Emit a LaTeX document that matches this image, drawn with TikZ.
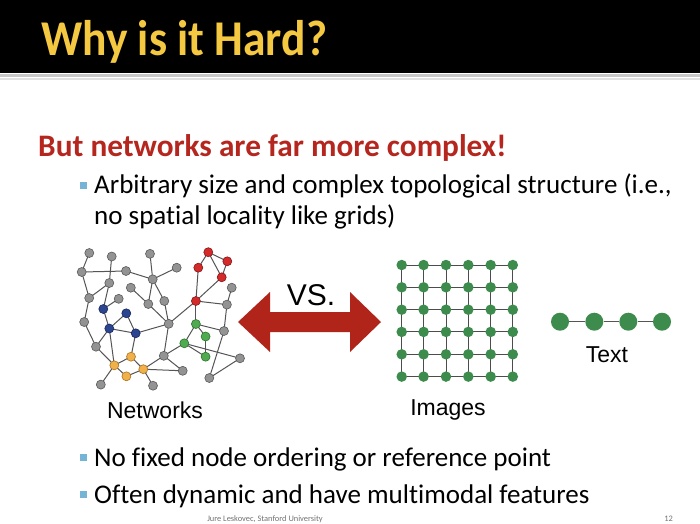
\documentclass[tikz,border=0pt]{standalone}
\usepackage{fontspec}
\setmainfont{Carlito}[Ligatures=NoCommon]
\newfontfamily\helv{Liberation Sans}
\definecolor{titleyellow}{HTML}{F5C842}
\definecolor{headred}{HTML}{B5261E}
\definecolor{bulletblue}{HTML}{76B4D6}
\definecolor{arrowred}{HTML}{B0241A}
\definecolor{edgegray}{HTML}{555555}
\definecolor{imggreen}{HTML}{3D8C4D}
\pgfdeclarelayer{back}
\pgfdeclarelayer{bg}
\pgfsetlayers{back,bg,main}
\begin{document}
\begin{tikzpicture}[x=1pt,y=-1pt,
  nd/.style={circle,inner sep=0pt,minimum size=9pt,line width=0.6pt},
  gn/.style={nd,fill=gray!85!white,draw=black!65},
  rn/.style={nd,fill={rgb,255:red,212;green,42;blue,42},draw={rgb,255:red,130;green,25;blue,25}},
  bn/.style={nd,fill={rgb,255:red,43;green,69;blue,144},draw={rgb,255:red,25;green,40;blue,90}},
  grn/.style={nd,fill={rgb,255:red,80;green,170;blue,80},draw={rgb,255:red,45;green,115;blue,45}},
  on/.style={nd,fill={rgb,255:red,240;green,176;blue,74},draw={rgb,255:red,170;green,115;blue,35}},
  ed/.style={draw=edgegray,line width=1pt},
  gridedge/.style={draw=black!70,line width=1pt},
  imnode/.style={circle,inner sep=0pt,minimum size=10.5pt,fill=imggreen},
  txnode/.style={circle,inner sep=0pt,minimum size=18pt,fill=imggreen},
  bul/.style={rectangle,inner sep=0pt,minimum size=7pt,fill=bulletblue},
  body/.style={anchor=base west,inner sep=0pt,font=\fontsize{27}{30}\selectfont},
  lab/.style={inner sep=0pt,font=\helv\fontsize{23}{26}\selectfont},
  foottext/.style={anchor=base,inner sep=0pt,text=black!55,font=\fontsize{8.4}{9}\selectfont}
]
\useasboundingbox (0,0) rectangle (700,523);
\begin{pgfonlayer}{back}
\fill[white] (0,0) rectangle (700,523);
% title bar
\fill[black] (0,0) rectangle (700,73);
\fill[black!22] (0,74) rectangle (700,77);
\fill[black!12] (0,78) rectangle (700,79.5);
\end{pgfonlayer}
\node[anchor=base west,inner sep=0pt,text=titleyellow,font=\bfseries\fontsize{45.5}{48}\selectfont] (title) at (41,55) {\scalebox{1}[1.1]{Why is it Hard?}};
% heading
\node[anchor=base west,inner sep=0pt,text=headred,font=\bfseries\fontsize{31.3}{34}\selectfont] (head) at (38,156) {But networks are far more complex!};
% bullets
\node[bul] (bu1) at (83.5,185.5) {};
\node[body] (t1a) at (94,193) {Arbitrary size and complex topological structure (i.e.,};
\node[body] (t1b) at (94,224) {no spatial locality like grids)};
\node[bul] (bu2) at (83.5,457.5) {};
\node[body] (t2) at (94,466) {No fixed node ordering or reference point};
\node[bul] (bu3) at (83.5,494) {};
\node[body] (t3) at (94,503) {Often dynamic and have multimodal features};
% footer
\node[foottext] (foot) at (265,521) {Jure Leskovec, Stanford University};
\node[foottext] (pg) at (668.5,521) {12};

% network nodes
\node[gn] (n1) at (89.3,253) {};
\node[gn] (n2) at (111.7,256.5) {};
\node[gn] (n3) at (150,253.8) {};
\node[gn] (n4) at (81.7,272) {};
\node[gn] (n5) at (126,271) {};
\node[gn] (n6) at (176.7,267.7) {};
\node[gn] (n7) at (109.3,283) {};
\node[gn] (n8) at (152.7,279.3) {};
\node[gn] (n9) at (130.8,287.7) {};
\node[gn] (n10) at (89.2,298) {};
\node[gn] (n11) at (118.7,298.8) {};
\node[gn] (n12) at (148.3,304) {};
\node[gn] (n13) at (164.3,301) {};
\node[gn] (n14) at (231.7,287.7) {};
\node[gn] (n15) at (226.9,304.6) {};
\node[gn] (n16) at (84.2,322) {};
\node[gn] (n17) at (168.7,323.8) {};
\node[gn] (n18) at (224,331) {};
\node[gn] (n19) at (96,346.7) {};
\node[gn] (n20) at (163.8,355.8) {};
\node[gn] (n21) at (240,358.3) {};
\node[gn] (n22) at (182.7,370.8) {};
\node[gn] (n23) at (209.3,378) {};
\node[gn] (n24) at (100.8,384.6) {};
\node[gn] (n25) at (153,385.7) {};
\node[rn] (r1) at (208.3,252.2) {};
\node[rn] (r2) at (227.3,261.3) {};
\node[rn] (r3) at (198.3,267.7) {};
\node[rn] (r4) at (221.7,277.3) {};
\node[rn] (r5) at (195.9,301) {};
\node[bn] (b1) at (103.3,309) {};
\node[bn] (b2) at (126.3,313.3) {};
\node[bn] (b3) at (109.3,328.5) {};
\node[bn] (b4) at (135.7,333.3) {};
\node[grn] (g1) at (195.9,324) {};
\node[grn] (g2) at (205.6,336.5) {};
\node[grn] (g3) at (184.3,343.3) {};
\node[grn] (g4) at (205.6,356.7) {};
\node[on] (o1) at (131,356.7) {};
\node[on] (o2) at (114.3,365.3) {};
\node[on] (o3) at (143.3,369.2) {};
\node[on] (o4) at (126.4,376.3) {};
% network edges, behind the nodes
\begin{pgfonlayer}{bg}
\foreach \a/\b in {n1/n4,n4/n5,n2/n7,n5/n8,n3/n8,n6/n8,n8/n12,n8/n13,n9/n12,n12/n17,n13/n17,
  n4/n10,n7/n10,n7/b1,b1/n11,n10/n16,n16/n19,b1/b3,b3/b2,b2/b4,b3/b4,b3/n19,b3/o2,b4/o1,b4/n17,
  n17/r5,n17/n20,n19/o2,o2/o1,o2/o4,o4/o3,o1/o3,o2/n24,o3/n25,o3/n20,o3/n22,n20/n22,n20/g3,
  r1/r2,r1/r3,r1/r4,r2/r4,r3/r5,r4/r5,r5/n15,n14/n15,n15/n18,r5/g1,g1/n18,g1/g3,g1/g2,g2/g4,
  g3/g4,g3/n21,n18/n23,n23/n21}
  \draw[ed] (\a.center) -- (\b.center);
\end{pgfonlayer}

% image grid
\foreach \i/\x in {1/401.7,2/423.6,3/446,4/468.3,5/490.7,6/512.8}
  \foreach \j/\y in {1/265,2/287.3,3/309.7,4/331.9,5/354.3,6/376.6}
    \node[imnode] (im-\i-\j) at (\x,\y) {};
\begin{pgfonlayer}{bg}
\foreach \i in {1,...,6}
  \foreach \j [count=\k from 2] in {1,...,5}{
    \draw[gridedge] (im-\i-\j.center) -- (im-\i-\k.center);
    \draw[gridedge] (im-\j-\i.center) -- (im-\k-\i.center);
  }
\end{pgfonlayer}
% text chain
\node[txnode] (c1) at (560,321.7) {};
\node[txnode] (c2) at (594.3,321.7) {};
\node[txnode] (c3) at (628.3,321.7) {};
\node[txnode] (c4) at (662,321.7) {};
\draw[ed] (c1) -- (c2) (c2) -- (c3) (c3) -- (c4);

% double arrow
\fill[arrowred] (238,322) -- (270,292) -- (270,312) -- (350,312) -- (350,292) -- (381,322)
  -- (350,352) -- (350,332) -- (270,332) -- (270,352) -- cycle;

% labels
\node[lab] (lnet) at (155,410) {Networks};
\node[lab] (limg) at (448,410) {Images};
\node[lab] (ltxt) at (607,355) {Text};
\node[lab,font=\helv\fontsize{30}{32}\selectfont] (lvs) at (311,295) {VS.};
\end{tikzpicture}
\end{document}
